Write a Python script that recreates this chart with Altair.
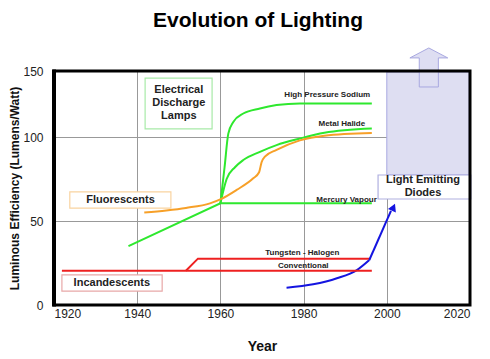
import altair as alt
import pandas as pd

FONT = "Liberation Sans"

# ---- data ----
hps_year = [1960.0, 1961.0, 1961.9, 1963.1, 1965.5, 1969.5, 1973.5, 1979.1, 1996.4]
hps_val = [60.5, 82, 102, 109, 114, 117, 119, 120, 120]

mh_year = [1960.0, 1961.5, 1963.5, 1965.5, 1969.5, 1973.5, 1979.1, 1985.0, 1996.4]
mh_val = [60.5, 75, 82, 86.3, 91.2, 95.2, 99.1, 102.5, 105]

fl_year = [1941.7, 1947.0, 1951.7, 1957.5, 1960.1, 1963.9, 1967.9, 1969.3, 1969.9, 1970.7, 1973.5, 1979.1, 1985.0, 1996.4]
fl_val = [55, 56.3, 57.8, 60.5, 63, 68.5, 75.4, 79, 85, 88.3, 92.3, 98, 100.8, 102.4]

led_year = [1975.9, 1982.3, 1988.0, 1992.8, 1995.8]
led_val = [10.3, 12.3, 15.9, 20.8, 26.8]
led_arrow_year = [1995.8, 2001.0]
led_arrow_val = [26.8, 56]
led_tip_year = [2001.6]
led_tip_val = [58.2]

mv_year = [1937.9, 1960.0, 1996.4]
mv_val = [35, 60.5, 60.5]

conv_year = [1921.9, 1996.4]
conv_val = [20.4, 20.4]

th_year = [1951.7, 1954.6, 1996.0]
th_val = [20.4, 27.6, 27.6]

x_ticks = [1920, 1940, 1960, 1980, 2000, 2020]
y_ticks = [0, 50, 100, 139.3]

series_names = ["HPS", "MH", "FL", "LED", "LEDA", "MV", "CONV", "TH"]
series_colors = ["#2ee82e", "#2ee82e", "#f7a028", "#1414e0", "#1414e0", "#2ee82e", "#ee2020", "#ee2020"]

def frame(years, vals, name):
    return pd.DataFrame({"year": years, "value": vals, "series": name})

curves = pd.concat([
    frame(hps_year, hps_val, "HPS"),
    frame(mh_year, mh_val, "MH"),
    frame(fl_year, fl_val, "FL"),
    frame(led_year, led_val, "LED"),
])
straights = pd.concat([
    frame(mv_year, mv_val, "MV"),
    frame(conv_year, conv_val, "CONV"),
    frame(th_year, th_val, "TH"),
    frame(led_arrow_year, led_arrow_val, "LEDA"),
])

# small line labels
lab_text = ["High Pressure Sodium", "Metal Halide", "Mercury Vapour", "Tungsten - Halogen", "Conventional"]
lab_x = [1996.0, 1994.8, 1997.6, 1988.6, 1986.0]
lab_y = [125.0, 107.7, 62.8, 30.8, 23.2]
labels = pd.DataFrame({"t": lab_text, "year": lab_x, "value": lab_y})

# boxed labels
box_name = ["Electrical", "Fluorescents", "Incandescents", "LED"]
box_x1 = [1941.9, 1923.8, 1921.9, 1997.9]
box_x2 = [1958.0, 1948.1, 1946.0, 2020.2]
box_y1 = [104.8, 57.7, 8.3, 63.1]
box_y2 = [135.1, 67.3, 17.9, 77.4]
box_stroke = ["#a8eaa8", "#f9d3a0", "#e8a8a8", "#b0b0e0"]
boxes = pd.DataFrame({"name": box_name, "x1": box_x1, "x2": box_x2, "y1": box_y1, "y2": box_y2})

box_text = ["Electrical", "Discharge", "Lamps", "Fluorescents", "Incandescents", "Light Emitting", "Diodes"]
box_text_x = [1950.0, 1950.0, 1950.0, 1936.0, 1933.9, 2008.7, 2008.7]
box_text_y = [128.0, 120.2, 112.5, 62.5, 13.1, 74.4, 66.7]
btext = pd.DataFrame({"t": box_text, "year": box_text_x, "value": box_text_y})

# LED shaded region and up arrow
shade = pd.DataFrame({"x1": [2000.0], "x2": [2019.8], "y1": [77.4], "y2": [138.7]})
up_arrow = pd.DataFrame({"year": [2010.1], "value": [141.4]})
ARROW_PATH = "M0,-1 L0.97,-0.49 L0.49,-0.49 L0.49,1 L-0.49,1 L-0.49,-0.49 L-0.97,-0.49 Z"

# ---- scales ----
xs = alt.Scale(domain=[1920, 2020], nice=False, zero=False)
ys = alt.Scale(domain=[0, 139.3], nice=False, zero=False)
col = alt.Scale(domain=series_names, range=series_colors)

x_axis = alt.Axis(values=x_ticks, format="d", title="Year", grid=True, gridColor="#999999",
                  gridWidth=1, ticks=False, domain=False, labelFont=FONT, labelFontSize=12,
                  labelColor="#222222", labelPadding=3, titleFont=FONT, titleFontSize=14,
                  titleFontWeight="bold", titlePadding=20, titleColor="#111111")
y_axis = alt.Axis(values=y_ticks, labelExpr="datum.value > 120 ? '150' : datum.label",
                  title="Luminous Efficiency (Lumens/Watt)", grid=True, gridColor="#999999",
                  gridWidth=1, ticks=False, domain=False, labelFont=FONT, labelFontSize=12,
                  labelColor="#222222", labelPadding=11, titleFont=FONT, titleFontSize=12,
                  titleFontWeight="bold", titlePadding=1, titleColor="#111111")

shade_l = alt.Chart(shade).mark_rect(fill="#dedef2", stroke="#a8a8e0", strokeWidth=1).encode(
    x=alt.X("x1:Q", scale=xs, axis=x_axis), x2="x2:Q",
    y=alt.Y("y1:Q", scale=ys, axis=y_axis), y2="y2:Q")

arrow_l = alt.Chart(up_arrow).mark_point(shape=ARROW_PATH, size=1521, filled=True,
                                         fill="#dedef2", stroke="#a8a8e0", strokeWidth=1,
                                         opacity=1, fillOpacity=1).encode(
    x=alt.X("year:Q", scale=xs), y=alt.Y("value:Q", scale=ys))

curve_l = alt.Chart(curves).mark_line(strokeWidth=2, interpolate="monotone").encode(
    x=alt.X("year:Q", scale=xs), y=alt.Y("value:Q", scale=ys),
    color=alt.Color("series:N", scale=col, legend=None), detail="series:N")

straight_l = alt.Chart(straights).mark_line(strokeWidth=2, interpolate="linear").encode(
    x=alt.X("year:Q", scale=xs), y=alt.Y("value:Q", scale=ys),
    color=alt.Color("series:N", scale=col, legend=None), detail="series:N")

tip_l = alt.Chart(pd.DataFrame({"year": led_tip_year, "value": led_tip_val})).mark_point(
    shape="triangle-up", filled=True, size=75, angle=24, color="#1414e0", opacity=1).encode(
    x=alt.X("year:Q", scale=xs), y=alt.Y("value:Q", scale=ys))

box_l = alt.Chart(boxes).mark_rect(fill="white", strokeWidth=1.2).encode(
    x=alt.X("x1:Q", scale=xs), x2="x2:Q", y=alt.Y("y1:Q", scale=ys), y2="y2:Q",
    stroke=alt.Stroke("name:N", scale=alt.Scale(domain=box_name, range=box_stroke), legend=None))

lab_l = alt.Chart(labels).mark_text(font=FONT, fontSize=8, fontWeight="bold", align="right",
                                    baseline="middle", color="#222222").encode(
    x=alt.X("year:Q", scale=xs), y=alt.Y("value:Q", scale=ys), text="t:N")

btext_l = alt.Chart(btext).mark_text(font=FONT, fontSize=11, fontWeight="bold", align="center",
                                     baseline="middle", color="#222222").encode(
    x=alt.X("year:Q", scale=xs), y=alt.Y("value:Q", scale=ys), text="t:N")

title_l = alt.Chart(pd.DataFrame({"t": ["Evolution of Lighting"]})).mark_text(
    font=FONT, fontSize=21, fontWeight="bold", align="center", baseline="alphabetic",
    color="#000000").encode(x=alt.value(204), y=alt.value(-44), text="t:N")

frame_l = alt.Chart(pd.DataFrame({"a": [0]})).mark_rect(
    fill="white", fillOpacity=0, stroke="black", strokeWidth=3).encode(
    x=alt.value(0), x2=alt.value(416), y=alt.value(0), y2=alt.value(234))

left_l = alt.Chart(pd.DataFrame({"a": [0]})).mark_rule(color="black", strokeWidth=4).encode(
    x=alt.value(0), y=alt.value(-1.5), y2=alt.value(235.5))

chart = alt.layer(shade_l, arrow_l, curve_l, straight_l, tip_l, box_l, lab_l, btext_l,
                  title_l, frame_l, left_l).resolve_scale(color="independent").properties(
    width=416, height=234,
    autosize=alt.AutoSizeParams(type="none"),
    padding={"left": 46, "top": 63, "right": 12, "bottom": 50},
).configure_view(stroke=None).configure(background="white")

chart.save("out.html", embed_options={"renderer": "svg", "actions": False})
